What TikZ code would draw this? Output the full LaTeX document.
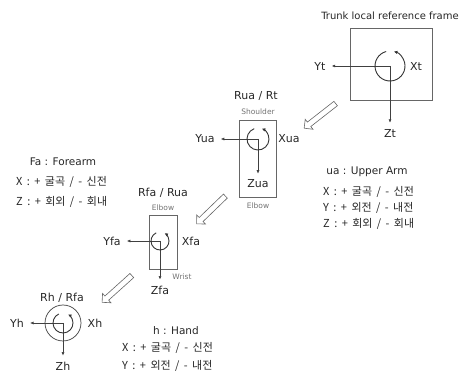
\documentclass[tikz,border=0pt]{standalone}
\usepackage{fontspec}
\setmainfont{DejaVu Sans}
\newfontfamily\kr[WordSpace=1.8]{Noto Sans CJK KR}
\usetikzlibrary{arrows.meta,shapes.arrows}

\begin{document}
\begin{tikzpicture}[x=1pt,y=-1pt,
  jointbox/.style={draw=black!60,line width=0.6pt},
  ax/.style={draw=black!75,line width=0.6pt,shorten >=4pt,-{Latex[length=3.5pt,width=3pt]}},
  rot/.style={draw=black!80,line width=0.9pt,-{Latex[length=3.5pt,width=3.5pt]}},
  lbl/.style={font=\fontsize{11}{12}\selectfont,text=black!85,inner sep=2pt},
  ttl/.style={font=\fontsize{10}{12}\selectfont,text=black!85,inner sep=0pt},
  tag/.style={font=\fontsize{7.5}{8}\selectfont,text=black!55,inner sep=0pt},
  note/.style={font=\kr\fontsize{11}{12}\selectfont,text=black!85,anchor=west,inner sep=0pt},
  hol/.style={single arrow,draw=black!60,line width=0.6pt,fill=white,inner sep=2.5pt,
              minimum height=40pt,single arrow head extend=3.5pt}]
\useasboundingbox (0,0) rectangle (464,374);
% trunk
\node[ttl] (trunk) at (390,16) {Trunk local reference frame};
\draw[jointbox] (350,28) rectangle (432,100);
\coordinate (t) at (390,66);
\node[lbl] (yt) at (320,66) {Yt};
\node[lbl] (xt) at (416,66) {Xt};
\node[lbl] (zt) at (390,133) {Zt};
\draw[ax] (t) -- (yt);
\draw[ax] (t) -- (zt);
\draw[rot] (t) ++(-105:15) arc[start angle=-105,end angle=-435,radius=15];
\node[hol,rotate=218] (push1) at (321,115) {};
% upper arm
\node[lbl] (ua) at (256,96) {Rua / Rt};
\node[tag] (shoulder) at (258,112) {Shoulder};
\draw[jointbox] (239,120) rectangle (276,197);
\coordinate (u) at (258,139);
\node[lbl] (yua) at (205,139) {Yua};
\node[lbl] (xua) at (289,139) {Xua};
\node[lbl] (zua) at (258,184) {Zua};
\draw[ax] (u) -- (yua);
\draw[ax] (u) -- (zua);
\draw[rot] (u) ++(-110:11) arc[start angle=-110,end angle=-430,radius=11];
\node[tag] (elbow1) at (258,206) {Elbow};
\node[hol,rotate=224] (push2) at (212,209) {};
% upper arm notes
\node[ttl,font=\fontsize{10.5}{12}\selectfont] (uanote) at (367,172) {ua : Upper Arm};
\node[note] (uax) at (323,192) {X : + 굴곡 / - 신전};
\node[note] (uay) at (323,208) {Y : + 외전 / - 내전};
\node[note] (uaz) at (323,224) {Z : + 회외 / - 회내};
% forearm
\node[ttl,font=\fontsize{10.5}{12}\selectfont] (fanote) at (63,162) {Fa : Forearm};
\node[note] (fax) at (16,182) {X : + 굴곡 / - 신전};
\node[note] (faz) at (16,202) {Z : + 회외 / - 회내};
\node[lbl] (fa) at (163,193) {Rfa / Rua};
\node[tag] (elbow2) at (163,208) {Elbow};
\draw[jointbox] (149,215) rectangle (177,269);
\coordinate (f) at (160,241);
\node[lbl] (yfa) at (112,241) {Yfa};
\node[lbl] (xfa) at (191,241) {Xfa};
\node[lbl] (zfa) at (160,290) {Zfa};
\draw[ax] (f) -- (yfa);
\draw[ax] (f) -- (zfa);
\draw[rot] (f) ++(-115:9) arc[start angle=-115,end angle=-420,radius=9];
\node[tag] (wrist) at (182,277) {Wrist};
\node[hol,rotate=222] (push3) at (118,288) {};
% hand
\node[lbl] (h) at (62,298) {Rh / Rfa};
\coordinate (c) at (63,323);
\draw[jointbox,draw=black!75,line width=0.7pt] (c) circle[radius=18];
\node[lbl] (yh) at (17,323) {Yh};
\node[lbl] (xh) at (95,323) {Xh};
\node[lbl] (zh) at (63,366) {Zh};
\draw[ax] (c) -- (yh);
\draw[ax] (c) -- (zh);
\draw[rot] (c) ++(-115:10) arc[start angle=-115,end angle=-420,radius=10];
% hand notes
\node[ttl,font=\fontsize{10.5}{12}\selectfont] (hnote) at (176,331) {h : Hand};
\node[note] (hx) at (122,348) {X : + 굴곡 / - 신전};
\node[note] (hy) at (122,366) {Y : + 외전 / - 내전};
\end{tikzpicture}
\end{document}
